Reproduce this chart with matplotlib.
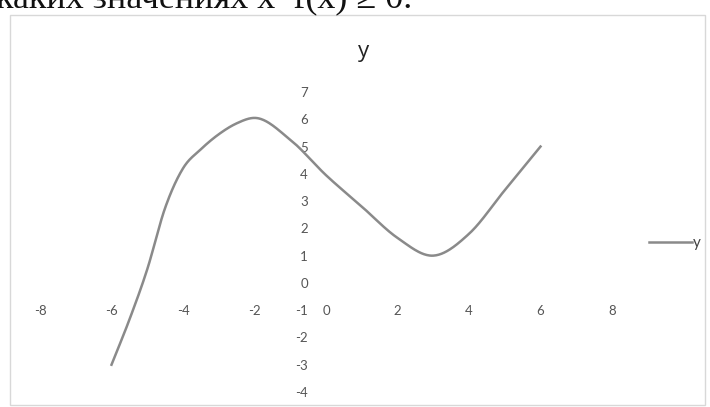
import numpy as np
import matplotlib
matplotlib.use('Agg')
import matplotlib.pyplot as plt
from matplotlib.patches import Rectangle

plt.rcParams['axes.unicode_minus'] = False

# points
x_pts = [-6, -5.5, -5, -4.5, -4, -3.5, -3, -2.5, -2, -1, 0, 1, 2, 3, 4, 5, 6]
y_pts = [-3, -1.35, 0.5, 2.75, 4.2, 4.9, 5.45, 5.85, 6.05, 5.25, 3.95, 2.8, 1.65, 1.0, 1.8, 3.4, 5.0]

x_ticks = [-8, -6, -4, -2, 0, 2, 4, 6, 8]
y_ticks = [-4, -3, -2, -1, 0, 1, 2, 3, 4, 5, 6, 7]


def smooth(xs, ys, n=40):
    # cubic hermite with finite-difference tangents (close to excel's smoothed line)
    xs = np.asarray(xs, float)
    ys = np.asarray(ys, float)
    m = np.gradient(ys, xs)
    out_x, out_y = [], []
    for i in range(len(xs) - 1):
        h = xs[i + 1] - xs[i]
        t = np.linspace(0, 1, n)
        h00 = 2 * t ** 3 - 3 * t ** 2 + 1
        h10 = t ** 3 - 2 * t ** 2 + t
        h01 = -2 * t ** 3 + 3 * t ** 2
        h11 = t ** 3 - t ** 2
        out_x.append(xs[i] + t * h)
        out_y.append(h00 * ys[i] + h10 * h * m[i] + h01 * ys[i + 1] + h11 * h * m[i + 1])
    return np.concatenate(out_x), np.concatenate(out_y)


fig = plt.figure(figsize=(7.1, 4.07), dpi=100)

# clipped line of the page text above the chart
fig.text(-4 / 710, 1.0 - 7 / 407, 'каких значениях x  f(x) ≥ 0.', family='Liberation Serif',
         fontsize=26, va='baseline', ha='left', color='#111111')
# chart border
fig.patches.append(Rectangle((10 / 710, 0.004), 695 / 710, 1 - 15 / 407 - 0.004,
                             transform=fig.transFigure, fill=False, ec='#d8d8d8', lw=1))

ax = fig.add_axes([40 / 710, 1 - 392 / 407, 572 / 710, 300 / 407])
xs, ys = smooth(x_pts, y_pts)
ax.plot(xs, ys, color='#8a8a8a', lw=1.8, label='y')

ax.set_xlim(-8, 8)
ax.set_ylim(-4, 7)
ax.set_xticks(x_ticks)
ax.set_yticks(y_ticks)
ax.spines['left'].set_position(('data', 0))
ax.spines['bottom'].set_position(('data', 0))
for s in ax.spines.values():
    s.set_visible(False)
ax.tick_params(axis='both', length=0, colors='#555555', labelsize=9.5)
ax.tick_params(axis='x', pad=16)
ax.tick_params(axis='y', pad=13)
for lab in ax.get_xticklabels() + ax.get_yticklabels():
    lab.set_family('Lato')
ax.set_facecolor('none')

fig.text(363 / 710, 1 - 52 / 407, 'y', ha='center', va='center', fontsize=16,
         family='Open Sans', color='#222222')

ax.legend(loc='center left', bbox_to_anchor=(635 / 710, 1 - 243 / 407),
          bbox_transform=fig.transFigure, frameon=False, handlelength=2.8,
          handletextpad=0.1, prop={'family': 'Lato', 'size': 11}, labelcolor='#444444')

fig.savefig('out.png', dpi=100)
